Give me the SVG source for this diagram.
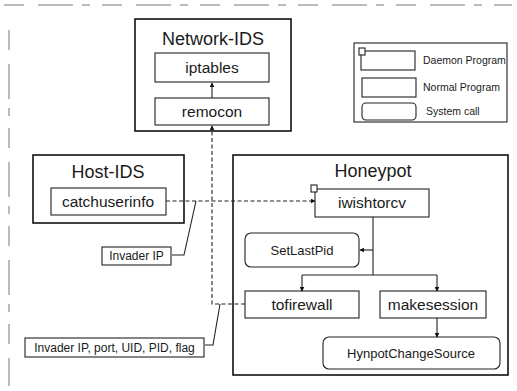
<svg xmlns="http://www.w3.org/2000/svg" width="517" height="391" viewBox="0 0 517 391">
<defs>
<marker id="ah" viewBox="0 0 8 8" refX="7" refY="4" markerWidth="5" markerHeight="5" orient="auto" markerUnits="userSpaceOnUse">
<path d="M0,0 L8,4 L0,8 z" fill="#111"/>
</marker>
</defs>
<style>
.frame{fill:none;stroke:#777;stroke-width:1;stroke-dasharray:20 14 35 9 8 12}
.outer{fill:#fff;stroke:#111;stroke-width:1.6}
.box{fill:#fff;stroke:#222;stroke-width:1.1}
.t{font-family:"Liberation Sans",Arial,sans-serif;fill:#1a1a1a;text-anchor:middle}
.title{font-size:18px}
.node{font-size:15.5px}
.small{font-size:13px}
.leg{font-size:10.5px;text-anchor:start}
.lbl{font-size:12px}
.solid{fill:none;stroke:#222;stroke-width:1.1}
.dash{fill:none;stroke:#222;stroke-width:1.1;stroke-dasharray:4 2.5}
</style>
<rect width="517" height="391" fill="#fff"/>
<g id="frame">
<line class="frame" x1="4" y1="5" x2="512" y2="5"/>
<line class="frame" x1="9" y1="30" x2="9" y2="386"/>
</g>
<g id="network-ids">
<rect class="outer" x="135" y="19" width="156" height="112"/>
<text class="t title" x="213" y="45">Network-IDS</text>
</g>
<g id="iptables">
<rect class="box" x="155" y="53" width="114" height="29"/>
<text class="t node" x="212" y="73">iptables</text>
</g>
<g id="remocon">
<rect class="box" x="155" y="98" width="114" height="27"/>
<text class="t node" x="212" y="117">remocon</text>
</g>
<g id="legend">
<rect class="box" x="354" y="43" width="153" height="79"/>
<rect class="box" x="361" y="51" width="54" height="19"/>
<rect class="box" x="359" y="48" width="6" height="7"/>
<text class="t leg" x="423" y="64">Daemon Program</text>
<rect class="box" x="362" y="78" width="54" height="19"/>
<text class="t leg" x="423" y="91">Normal Program</text>
<rect class="box" x="362" y="103" width="54" height="17" rx="4"/>
<text class="t leg" x="426" y="115">System call</text>
</g>
<g id="host-ids">
<rect class="outer" x="33" y="155" width="151" height="68"/>
<text class="t title" x="108" y="178">Host-IDS</text>
</g>
<g id="catchuserinfo">
<rect class="box" x="51" y="188" width="115" height="27"/>
<text class="t node" x="108" y="207">catchuserinfo</text>
</g>
<g id="honeypot">
<rect class="outer" x="233" y="155" width="275" height="220"/>
<text class="t title" x="373" y="177">Honeypot</text>
</g>
<g id="iwishtorcv">
<rect class="box" x="315" y="189" width="114" height="28"/>
<rect class="box" x="311" y="185" width="6" height="7"/>
<text class="t node" x="372" y="208">iwishtorcv</text>
</g>
<g id="setlastpid">
<rect class="box" x="245" y="233" width="114" height="34" rx="6"/>
<text class="t small" x="302" y="255">SetLastPid</text>
</g>
<g id="tofirewall">
<rect class="box" x="245" y="291" width="114" height="27"/>
<text class="t node" x="302" y="310">tofirewall</text>
</g>
<g id="makesession">
<rect class="box" x="380" y="291" width="106" height="27"/>
<text class="t node" x="433" y="310">makesession</text>
</g>
<g id="hynpotchangesource">
<rect class="box" x="323" y="337" width="177" height="32" rx="6"/>
<text class="t small" x="411" y="358">HynpotChangeSource</text>
</g>
<g id="label-invader-ip">
<rect class="box" x="102" y="247" width="69" height="18"/>
<text class="t lbl" x="136.5" y="260">Invader IP</text>
</g>
<g id="label-invader-details">
<rect class="box" x="25" y="338" width="179" height="19"/>
<text class="t lbl" x="114.5" y="352">Invader IP, port, UID, PID, flag</text>
</g>
<g id="connectors">
<line class="solid" x1="212" y1="98" x2="212" y2="83" marker-end="url(#ah)"/>
<polyline class="dash" points="245,304 212,304 212,126" marker-end="url(#ah)"/>
<line class="dash" x1="166" y1="201" x2="315" y2="201" marker-end="url(#ah)"/>
<line class="solid" x1="373" y1="217" x2="373" y2="275"/>
<line class="solid" x1="373" y1="250" x2="360" y2="250" marker-end="url(#ah)"/>
<line class="solid" x1="302" y1="275" x2="437" y2="275"/>
<line class="solid" x1="302" y1="275" x2="302" y2="291" marker-end="url(#ah)"/>
<line class="solid" x1="437" y1="275" x2="437" y2="291" marker-end="url(#ah)"/>
<line class="solid" x1="437" y1="318" x2="437" y2="337" marker-end="url(#ah)"/>
<polyline class="solid" points="172,255 184,255 196,201"/>
<polyline class="solid" points="205,345 213,345 220,304"/>
</g>
</svg>
